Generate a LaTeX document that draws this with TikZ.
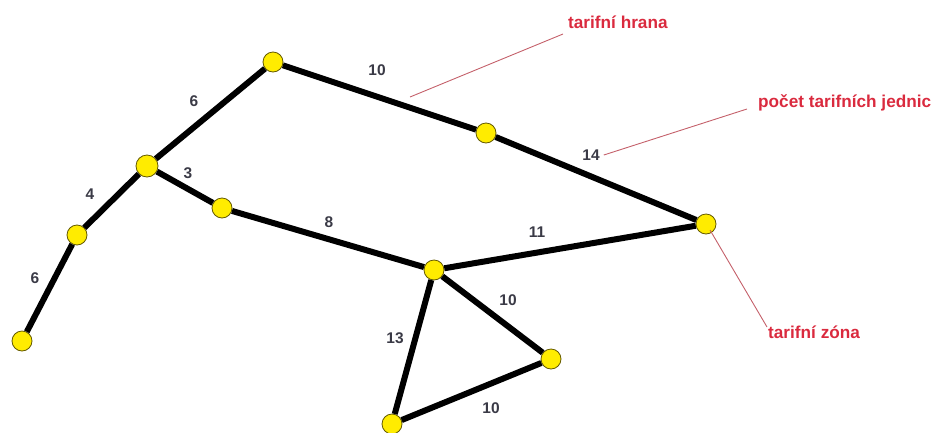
\documentclass[tikz,border=0pt]{standalone}
\usepackage{fontspec}
\setmainfont{Liberation Sans}
\definecolor{zyellow}{RGB}{255,236,0}
\definecolor{zrim}{RGB}{100,90,0}
\definecolor{tred}{RGB}{218,42,62}
\definecolor{tline}{RGB}{196,96,106}
\definecolor{lgray}{RGB}{58,58,70}
\tikzset{
    stop/.style={circle, fill=zyellow, draw=zrim, line width=0.8pt,
        minimum size=20pt, inner sep=0pt},
    hrana/.style={line width=6pt, black},
    lbl/.style={text=lgray, font=\bfseries\fontsize{15.5}{16}\selectfont, inner sep=0pt},
    note/.style={text=tred, font=\bfseries\fontsize{17.2}{18}\selectfont,
        inner sep=0pt, anchor=base west},
    pointer/.style={tline, line width=0.9pt}
}
\begin{document}
\begin{tikzpicture}[x=1pt, y=-1pt]
    \useasboundingbox (0,0) rectangle (932,432);
    % Stops
    \node[stop] (A) at (22,341) {};
    \node[stop] (B) at (77,235) {};
    \node[stop, minimum size=22pt] (C) at (147,166) {};
    \node[stop] (D) at (273,62) {};
    \node[stop] (E) at (486,133) {};
    \node[stop] (F) at (706,224) {};
    \node[stop] (G) at (222,208) {};
    \node[stop] (H) at (434,270) {};
    \node[stop] (I) at (551,359) {};
    \node[stop] (J) at (392,424) {};
    % Edges
    \foreach \a/\b in {A/B, B/C, C/D, D/E, E/F, C/G, G/H, H/F, H/I, H/J, J/I} {
        \draw[hrana] (\a) -- (\b);
    }
    % Edge values
    \node[lbl] (l1) at (35,278) {6};
    \node[lbl] (l2) at (90,194) {4};
    \node[lbl] (l3) at (194,101) {6};
    \node[lbl] (l4) at (188,173) {3};
    \node[lbl] (l5) at (377,70) {10};
    \node[lbl] (l6) at (591,155) {14};
    \node[lbl] (l7) at (329,222) {8};
    \node[lbl] (l8) at (537,232) {11};
    \node[lbl] (l9) at (508,300) {10};
    \node[lbl] (l10) at (395,338) {13};
    \node[lbl] (l11) at (491,408) {10};
    % Notes
    \node[note] (hr) at (568,28) {tarifní hrana};
    \node[note] (tj) at (758,107) {počet tarifních jednic};
    \node[note] (tz) at (768,338) {tarifní zóna};
    \coordinate (p1) at (410,97);
    \draw[pointer] (p1) -- ([shift={(-5,6)}]hr.base west);
    \draw[pointer] ([xshift=4pt]l6.east) -- ([shift={(-11,2)}]tj.base west);
    \draw[pointer] (F.center) ++(4,6) -- ([shift={(-1,-11)}]tz.base west);
\end{tikzpicture}
\end{document}
